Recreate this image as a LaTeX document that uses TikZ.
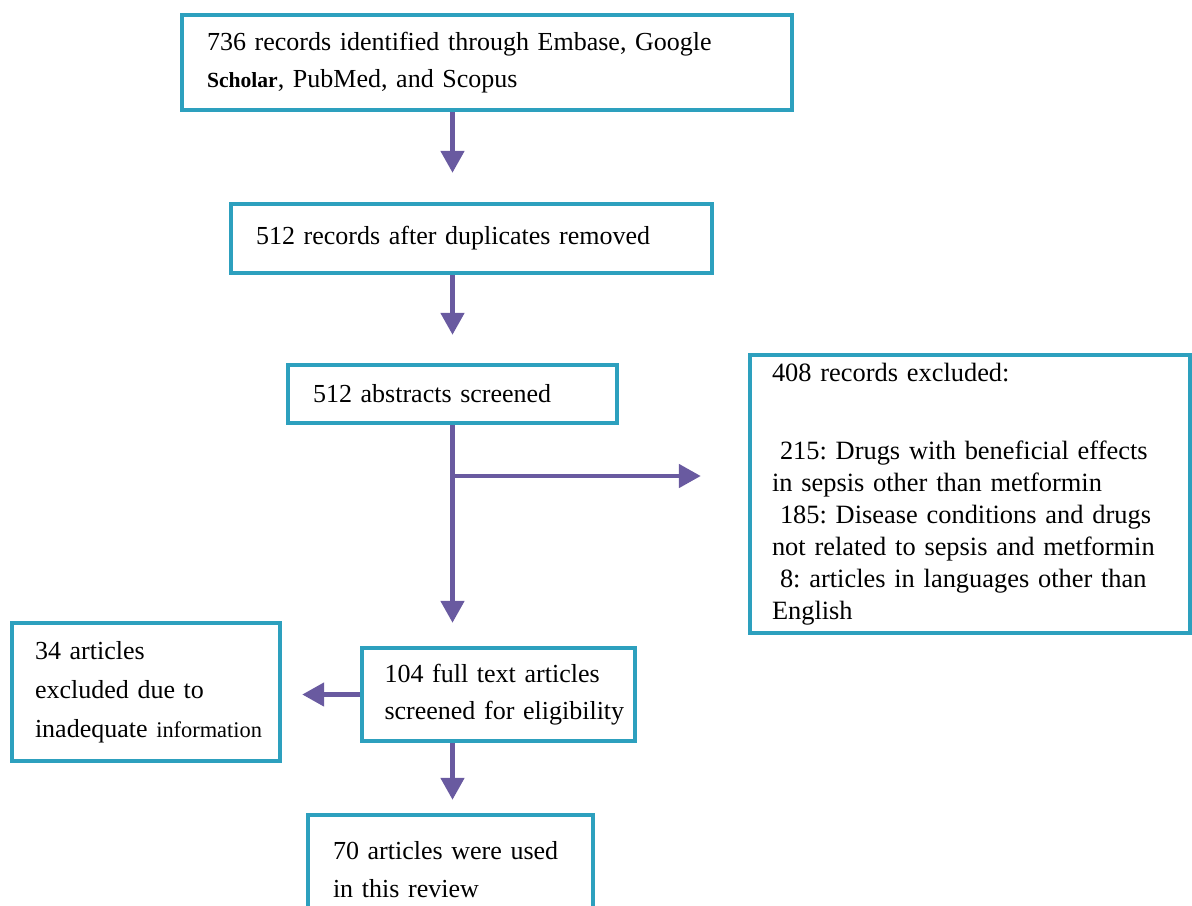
\documentclass[tikz,border=0pt]{standalone}
\usepackage{fontspec}
\setmainfont{Liberation Serif}
\usetikzlibrary{arrows.meta}
\definecolor{boxteal}{RGB}{45,160,190}
\definecolor{flowpurple}{RGB}{105,90,160}
\frenchspacing

\begin{document}
\begin{tikzpicture}[x=0.5pt,y=-0.5pt,>={Triangle[width=11.5pt,length=11pt]},
	box/.style={draw=boxteal,line width=2.2pt,align=left,inner xsep=12.5pt,inner ysep=0pt,
		font=\fontsize{13}{18.5}\selectfont},
	flow/.style={->,draw=flowpurple,line width=2.4pt}]
		\useasboundingbox (0,0) rectangle (1192,905);
		\fill[white] (0,0) rectangle (1192,905);
		
		% the boxes of the main column
		\node[box,minimum width=305pt,minimum height=47.5pt,text width=280pt] (ident) at (487,62.5)
		{736 records identified through Embase, Google\\
			{\fontsize{10.8}{18.5}\selectfont\bfseries Scholar}, PubMed, and Scopus};
		\node[box,minimum width=240.5pt,minimum height=34.5pt,text width=215.5pt] (dupl) at (471.5,238.5)
		{512 records after duplicates removed};
		\node[box,minimum width=164.5pt,minimum height=29pt,text width=139.5pt] (abstr) at (452.5,394)
		{512 abstracts screened};
		\node[box,minimum width=136.5pt,minimum height=46.5pt,text width=114pt,inner xsep=11.25pt] (full) at (498.5,694.5)
		{104 full text articles\\\mbox{screened for eligibility}};
		\node[box,minimum width=142.5pt,minimum height=55pt,text width=117.5pt,font=\fontsize{13}{19}\selectfont] (used) at (450.5,870)
		{70 articles were used\\in this review};
		
		% the side boxes
		\node[box,minimum width=220pt,minimum height=139pt,text width=198pt,inner xsep=11pt,
		font=\fontsize{13.2}{16}\selectfont] (excl) at (970,494)
		{408 records excluded:\\[23pt]
			\hspace{4pt}215: Drugs with beneficial effects\\
			in sepsis other than metformin\\
			\hspace{4pt}185: Disease conditions and drugs\\
			not related to sepsis and metformin\\
			\hspace{4pt}8: articles in languages other than\\
			English};
		\node[box,minimum width=134pt,minimum height=69pt,text width=111pt,inner xsep=11.5pt,
		font=\fontsize{13}{19.5}\selectfont] (inad) at (146,692)
		{34 articles\\excluded due to\\\mbox{inadequate {\fontsize{11.2}{19.5}\selectfont information}}};
		
		% the arrows
		\coordinate (split) at (452.5,476);
		\draw[flow,shorten >=14.5pt] (ident.south -| abstr) -- (dupl.north -| abstr);
		\draw[flow,shorten >=14pt] (dupl.south -| abstr) -- (abstr.north);
		\draw[flow,shorten >=11.5pt] (abstr.south) -- (full.north -| abstr);
		\draw[flow,shorten >=23.5pt] (split) -- (split -| excl.west);
		\draw[flow,shorten >=10pt] (full.west) -- (inad.east |- full);
		\draw[flow,shorten >=6.5pt] (full.south -| abstr) -- (used.north -| abstr);
\end{tikzpicture}
\end{document}
